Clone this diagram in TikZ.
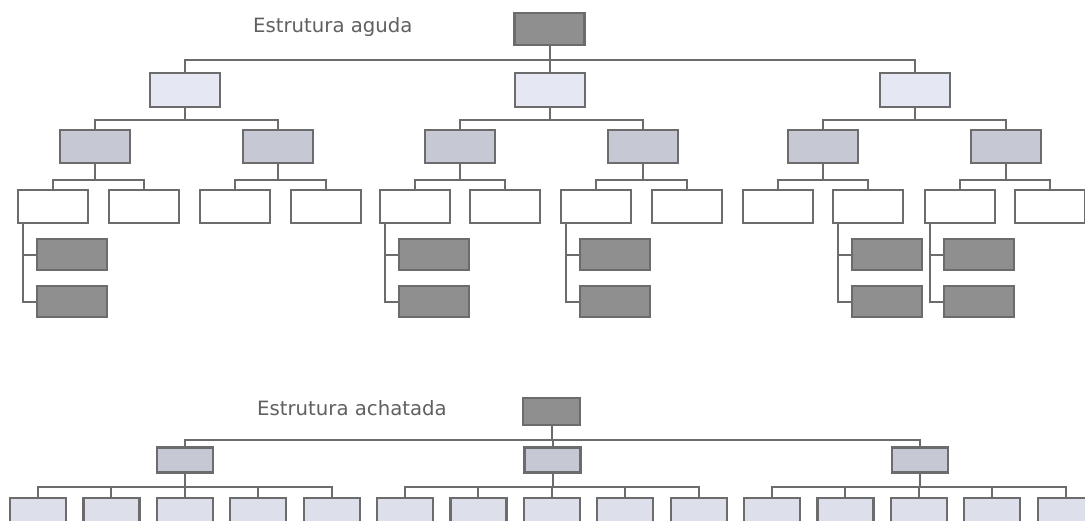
\documentclass[tikz,border=0pt]{standalone}
\usepackage{fontspec}
\setmainfont{DejaVu Sans}
\definecolor{darkg}{HTML}{8F8F8F}
\definecolor{lightb}{HTML}{E5E8F2}
\definecolor{midb}{HTML}{C6C9D3}
\definecolor{lightbb}{HTML}{DDE0EA}
\definecolor{lineg}{HTML}{6C6C6C}
\definecolor{textg}{HTML}{606060}
\begin{document}
\begin{tikzpicture}[x=1pt,y=-1pt,
  box/.style={draw=lineg, line width=2.2pt, inner sep=0pt, minimum width=70pt, minimum height=33pt},
  smallbox/.style={box, minimum width=56pt, minimum height=25pt},
  conn/.style={draw=lineg, line width=2pt},
  title/.style={text=textg, font=\fontsize{19.7}{22}\selectfont, inner sep=0pt, anchor=base west}]
\useasboundingbox (0,0) rectangle (1085,520);
\clip (0,0) rectangle (1085,520);
\fill[white] (0,0) rectangle (1085,520);

% ---------- Estrutura aguda ----------
\node[title] (t1) at (253,32) {Estrutura aguda};
\node[box, fill=darkg, minimum height=32pt] (r) at (549.5,29) {};
\node[box, fill=lightb, minimum height=34pt] (a1) at (185,90) {};
\node[box, fill=lightb, minimum height=34pt] (a2) at (550,90) {};
\node[box, fill=lightb, minimum height=34pt] (a3) at (915,90) {};
\foreach \x [count=\i] in {95,278,460,643,823,1006}
  \node[box, fill=midb] (b\i) at (\x,146.5) {};
\foreach \x [count=\i] in {53,144,235,326,415,505,596,687,778,868,960,1050}
  \node[box, fill=white] (c\i) at (\x,206.5) {};
\foreach \p in {1,5,7,10,11}{
  \node[box, fill=darkg, minimum height=31pt, anchor=west] (d\p a) at ([xshift=19pt]c\p.west |- 0,254.5) {};
  \node[box, fill=darkg, minimum height=31pt, anchor=west] (d\p b) at ([xshift=19pt]c\p.west |- 0,301.5) {};
}
\coordinate (h0) at (0,60);
\coordinate (h1) at (0,120);
\coordinate (h2) at (0,180);
\foreach \c in {a1,a2,a3}
  \draw[conn] (r.south) -- (r.south |- h0) -| (\c.north);
\foreach \p/\c in {a1/b1,a1/b2,a2/b3,a2/b4,a3/b5,a3/b6}
  \draw[conn] (\p.south) -- (\p.south |- h1) -| (\c.north);
\foreach \p/\c in {b1/c1,b1/c2,b2/c3,b2/c4,b3/c5,b3/c6,b4/c7,b4/c8,b5/c9,b5/c10,b6/c11,b6/c12}
  \draw[conn] (\p.south) -- (\p.south |- h2) -| (\c.north);
\foreach \p in {1,5,7,10,11}{
  \draw[conn] ([xshift=6pt]c\p.south west) |- (d\p a.west);
  \draw[conn] ([xshift=6pt]c\p.south west) |- (d\p b.west);
}

% ---------- Estrutura achatada ----------
\node[title] (t2) at (257,415) {Estrutura achatada};
\node[smallbox, fill=darkg, minimum width=57pt, minimum height=27pt] (R) at (551.5,411.5) {};
\node[smallbox, fill=midb] (A1) at (185,460) {};
\node[smallbox, fill=midb] (A2) at (552.5,460) {};
\node[smallbox, fill=midb] (A3) at (920,460) {};
\foreach \j in {0,...,14}
  \node[smallbox, fill=lightbb, minimum height=26pt] (B\j) at (38+73.4*\j,511) {};
\coordinate (H0) at (0,440);
\coordinate (H1) at (0,487);
\foreach \c in {A1,A2,A3}
  \draw[conn] (R.south) -- (R.south |- H0) -| (\c.north);
\foreach \j in {0,...,4}
  \draw[conn] (A1.south) -- (A1.south |- H1) -| (B\j.north);
\foreach \j in {5,...,9}
  \draw[conn] (A2.south) -- (A2.south |- H1) -| (B\j.north);
\foreach \j in {10,...,14}
  \draw[conn] (A3.south) -- (A3.south |- H1) -| (B\j.north);
\end{tikzpicture}
\end{document}
